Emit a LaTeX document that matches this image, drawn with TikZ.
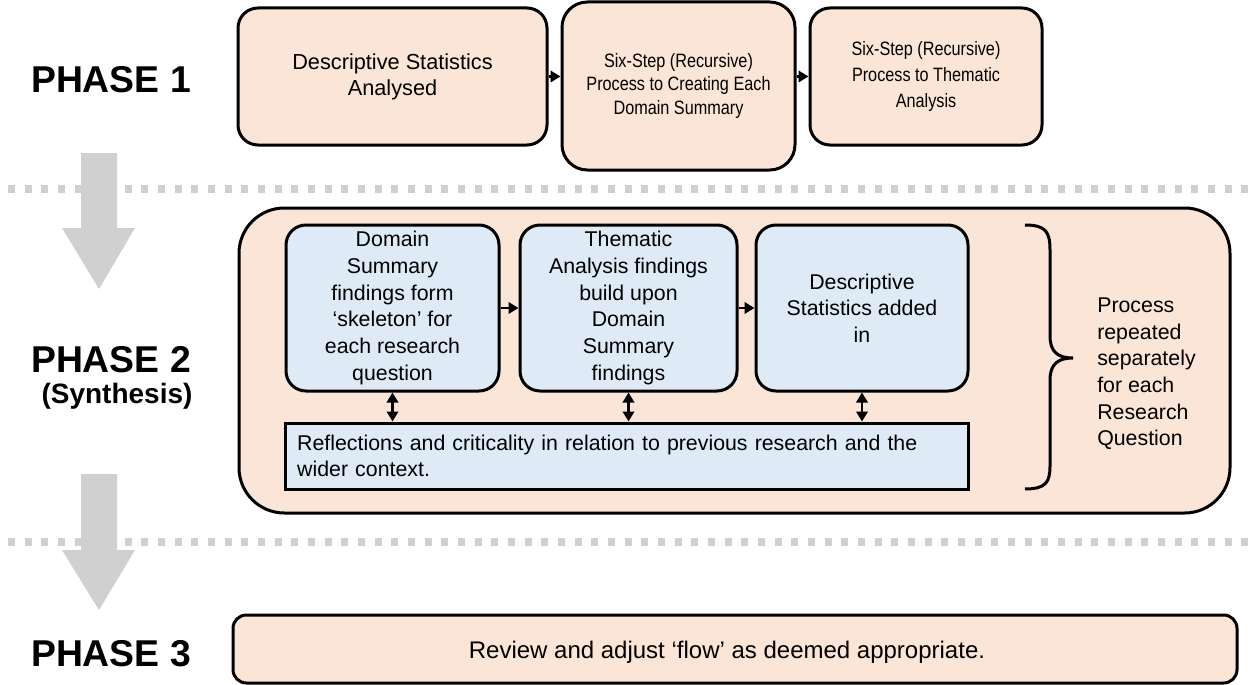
\documentclass[tikz,border=0pt]{standalone}
\usepackage{fontspec}
\setmainfont{Liberation Sans}
\newfontfamily\narrowsans[FakeStretch=0.84]{Liberation Sans}
\usetikzlibrary{arrows.meta}
\definecolor{peach}{HTML}{FBE5D6}
\definecolor{paleblue}{HTML}{DEEBF7}
\definecolor{lightgrey}{HTML}{D0D0D0}
\begin{document}
\begin{tikzpicture}[x=0.75pt,y=-0.75pt,
                    phase label/.style={font=\fontsize{28}{33}\selectfont\bfseries},
                    peach box/.style={draw,fill=peach,line width=2.25pt,align=center,
                                      font=\narrowsans\fontsize{14.5}{17.5}\selectfont},
                    blue box/.style={draw,fill=paleblue,line width=2.25pt,align=center,
                                     rounded corners=15pt,font=\fontsize{16}{20}\selectfont},
                    flow/.style={line width=2pt,-{Triangle[length=7.5pt,width=8.5pt]}},
                    both flow/.style={line width=2pt,{Triangle[length=7.5pt,width=8.5pt]}-{Triangle[length=7.5pt,width=8.5pt]}},
                    dash line/.style={lightgrey,line width=6pt,dash pattern=on 5.25pt off 7.25pt},
                    big arrow/.style={fill=lightgrey}
                   ]
  \useasboundingbox (0,0) rectangle (1250,685);

  % separators and downward arrows
  \draw[dash line] (8,189) -- (1250,189);
  \draw[dash line] (8,542) -- (1250,542);
  \fill[big arrow] (81,153) -- (117,153) -- (117,228) -- (135,228) -- (99,289) -- (62,228) -- (81,228) -- cycle;
  \fill[big arrow] (81,474) -- (117,474) -- (117,550) -- (135,550) -- (99,610) -- (62,550) -- (81,550) -- cycle;

  % phase labels
  \node[phase label] (p1) at (111,80) {PHASE 1};
  \node[phase label] (p2) at (111,360) {PHASE 2};
  \node[font=\fontsize{21}{25}\selectfont\bfseries] (syn) at (117,396) {(Synthesis)};
  \node[phase label] (p3) at (111,654) {PHASE 3};

  % phase 1
  \node[peach box,rounded corners=15pt,minimum width=231.75pt,minimum height=102.75pt,
        font=\fontsize{16.3}{19.5}\selectfont] (stats) at (392.5,76.5) {Descriptive Statistics\\Analysed};
  \node[peach box,rounded corners=19pt,minimum width=174.75pt,minimum height=126pt] (domsum) at (678.5,86) {Six-Step (Recursive)\\Process to Creating Each\\Domain Summary};
  \node[peach box,rounded corners=15pt,minimum width=174pt,minimum height=102.75pt,
        font=\narrowsans\fontsize{14.5}{19.3}\selectfont] (thematic) at (926,76.5) {Six-Step (Recursive)\\Process to Thematic\\Analysis};

  % phase 2
  \node[peach box,rounded corners=34pt,minimum width=743.25pt,minimum height=228.75pt] (synth) at (734.5,360.5) {};
  \node[blue box,minimum width=159.75pt,minimum height=124.5pt] (skel) at (392.5,308) {Domain\\Summary\\findings form\\‘skeleton’ for\\each research\\question};
  \node[blue box,minimum width=162.75pt,minimum height=124.5pt] (build) at (628.5,308) {Thematic\\Analysis findings\\build upon\\Domain\\Summary\\findings};
  \node[blue box,minimum width=159pt,minimum height=124.5pt] (added) at (862,308) {Descriptive\\Statistics added\\in};
  \node[blue box,rounded corners=0pt,align=left,minimum width=512.25pt,minimum height=49.5pt,text width=494pt] (reflect) at (626.5,456) {Reflections and criticality in relation to previous research and the\\wider context.};
  \draw[line width=2.25pt] (1025,225) .. controls (1046,225) and (1050,232) .. (1050,250) -- (1050,336)
    .. controls (1050,352) and (1058,358) .. (1073,358)
    .. controls (1058,358) and (1050,364) .. (1050,380) -- (1050,466)
    .. controls (1050,482) and (1046,489) .. (1025,489);
  \node[align=left,anchor=west,inner sep=0pt,font=\fontsize{16}{20}\selectfont] (repeat) at (1097,374) {Process\\repeated\\separately\\for each\\Research\\Question};

  % phase 3
  \node[peach box,rounded corners=10pt,minimum width=753pt,minimum height=51pt] (review) at (735,649) {};
  \node[font=\fontsize{18}{22}\selectfont] (reviewtext) at (727,652) {Review and adjust ‘flow’ as deemed appropriate.};

  \path[flow]
   (stats.east) edge (stats.east -| domsum.west)
   (thematic.west -| domsum.east) edge (thematic.west)
   (skel.east) edge (build.west)
   (build.east) edge (added.west);
  \path[both flow]
   (skel.south) edge (skel.south |- reflect.north)
   (build.south) edge (build.south |- reflect.north)
   (added.south) edge (added.south |- reflect.north);
\end{tikzpicture}
\end{document}
